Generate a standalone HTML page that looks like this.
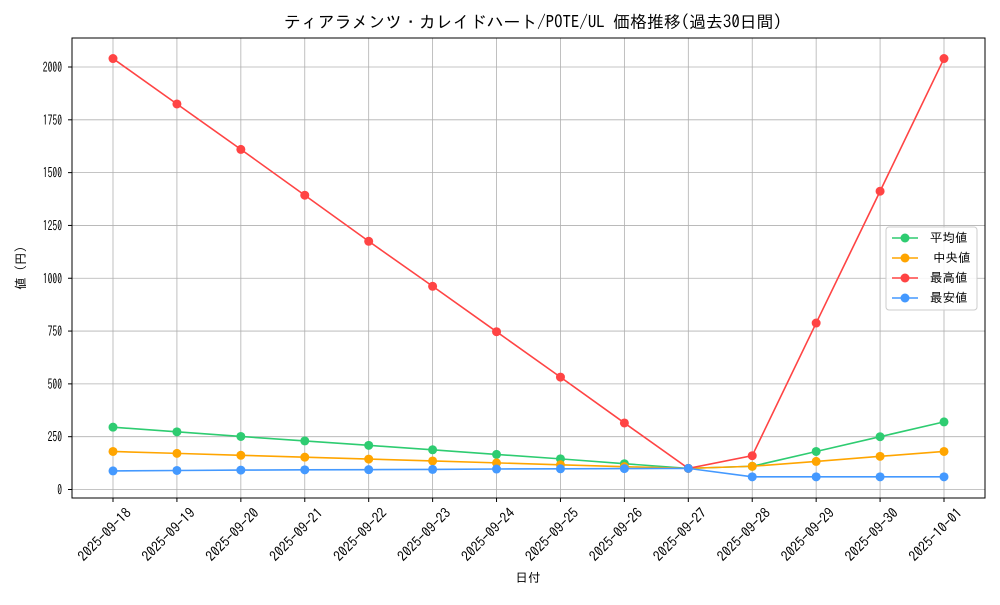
<!DOCTYPE html>
<html><head><meta charset="utf-8"><style>
body{margin:0;background:#fff;}
text{font-family:"IPAGothic","Noto Sans CJK JP",monospace;fill:#000;}
</style></head><body>
<svg id="s" width="1000" height="600" xmlns="http://www.w3.org/2000/svg"></svg>
<script>
const s=document.getElementById('s');
let h='';
const L=72,R=985,T=38,B=498;
const X=i=>113+i*(831/13);
const Y=v=>489.5-v*0.21125;
h+=`<rect x="${L}" y="${T}" width="${R-L}" height="${B-T}" fill="#fff"/>`;
for(let v=0;v<=2000;v+=250){const y=Y(v);
const w=String(v).length*4.8;
h+=`<line x1="${L}" x2="${R}" y1="${y}" y2="${y}" stroke="#b0b0b0" stroke-width="0.8"/>`;
h+=`<line x1="${L-4}" x2="${L}" y1="${y}" y2="${y}" stroke="#000"/>`;
h+=`<text x="${62-w}" y="${y+5}" font-size="14" textLength="${w}" lengthAdjust="spacingAndGlyphs">${v}</text>`;}
const d=['2025-09-18','2025-09-19','2025-09-20','2025-09-21','2025-09-22','2025-09-23','2025-09-24','2025-09-25','2025-09-26','2025-09-27','2025-09-28','2025-09-29','2025-09-30','2025-10-01'];
d.forEach((t,i)=>{const x=X(i);
h+=`<line x1="${x}" x2="${x}" y1="${T}" y2="${B}" stroke="#b0b0b0" stroke-width="0.8"/>`;
h+=`<line x1="${x}" x2="${x}" y1="${B}" y2="${B+4}" stroke="#000"/>`;
h+=`<g transform="translate(${x+19},${B+16}) rotate(-45)"><text x="-68" y="0" font-size="14" textLength="68" lengthAdjust="spacingAndGlyphs">${t}</text></g>`;});
h+=`<rect x="${L}" y="${T}" width="${R-L}" height="${B-T}" fill="none" stroke="#000" stroke-width="1"/>`;
const S=[
['#2ecc71',[295,273,251,230,209,188,166,145,122,100,110,180,250,320]],
['#ffa500',[180,171,162,153,144,135,126,117,108,100,110,133,157,180]],
['#ff4444',[2040,1825,1610,1393,1175,962,747,532,315,100,160,788,1412,2040]],
['#4499ff',[88,90,92,93,94,95,97,98,99,100,60,60,60,60]]];
S.forEach(([c,a])=>{h+=`<polyline fill="none" stroke="${c}" stroke-width="1.6" points="${a.map((v,i)=>X(i)+','+Y(v)).join(' ')}"/>`;
a.forEach((v,i)=>h+=`<circle cx="${X(i)}" cy="${Y(v)}" r="4.5" fill="${c}"/>`);});
h+=`<rect x="886" y="227" width="91" height="83" rx="3" fill="#fff" fill-opacity="0.85" stroke="#ccc"/>`;
['平均値','中央値','最高値','最安値'].forEach((t,i)=>{const y=238+i*20;const c=S[i][0];
h+=`<line x1="892" x2="918" y1="${y}" y2="${y}" stroke="${c}" stroke-width="1.6"/><circle cx="905" cy="${y}" r="4.5" fill="${c}"/>`;
h+=`<text x="${i==1?933:930}" y="${y+4}" font-size="12.5">${t}</text>`;});
h+=`<text x="284" y="28" font-size="17" textLength="498" lengthAdjust="spacingAndGlyphs">ティアラメンツ・カレイドハート/POTE/UL 価格推移(過去30日間)</text>`;
h+=`<text x="528" y="582" font-size="12.5" text-anchor="middle">日付</text>`;
h+=`<text transform="translate(25,268) rotate(-90)" font-size="12.5" text-anchor="middle">値 (円)</text>`;
s.innerHTML=h;
</script>
</body></html>
